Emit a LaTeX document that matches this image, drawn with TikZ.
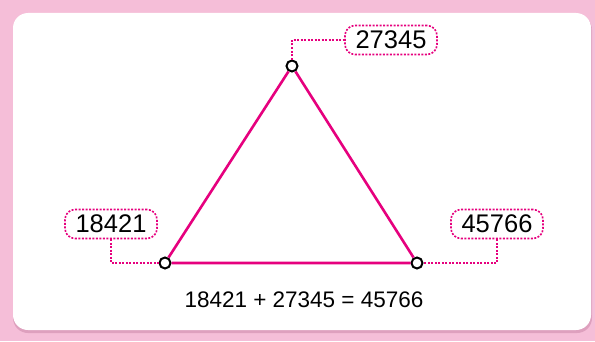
\documentclass[tikz,border=0pt]{standalone}
\usepackage{fontspec}
\setmainfont{Liberation Sans}
\usetikzlibrary{positioning}
\definecolor{rosaFondo}{RGB}{245,190,216}
\definecolor{rosaSombra}{RGB}{222,160,190}
\definecolor{magentaLinea}{RGB}{230,0,126}

\begin{document}
\begin{tikzpicture}[x=1pt, y=1pt,
    vertice/.style={circle, draw=black, fill=white, line width=2pt, inner sep=0pt, minimum size=11pt},
    etiqueta/.style={draw=magentaLinea, line width=1.6pt, dash pattern=on 2pt off 1.5pt,
      rounded corners=10pt, minimum width=92pt, minimum height=29pt, inner sep=0pt, font=\fontsize{25.5}{28}\selectfont},
    guia/.style={draw=magentaLinea, line width=1.5pt, dash pattern=on 2pt off 1.5pt}]
    % Fondo
    \fill[rosaFondo] (0,0) rectangle (595,341);
    \fill[rosaSombra, rounded corners=15pt] (13,8) rectangle (592,326);
    \fill[white, rounded corners=15pt] (13,11) rectangle (591,328);

    % Vértices del triángulo
    \node[vertice] (arriba) at (292,275) {};
    \node[vertice] (izq) at (165,78) {};
    \node[vertice] (der) at (417,78) {};

    % Lados
    \draw[magentaLinea, line width=2.6pt] (izq) -- (arriba) -- (der) -- (izq);

    % Etiquetas
    \node[etiqueta] (numArriba) at (391,301) {27345};
    \node[etiqueta] (numIzq) at (111,117) {18421};
    \node[etiqueta] (numDer) at (497,117) {45766};

    % Líneas guía
    \draw[guia] (arriba) |- (numArriba.west);
    \draw[guia] (numIzq.south) |- (izq.west);
    \draw[guia] (numDer.south) |- (der.east);

    % Igualdad
    \node[font=\fontsize{22.5}{25}\selectfont] (suma) at (304,41) {18421 + 27345 = 45766};
\end{tikzpicture}
\end{document}
